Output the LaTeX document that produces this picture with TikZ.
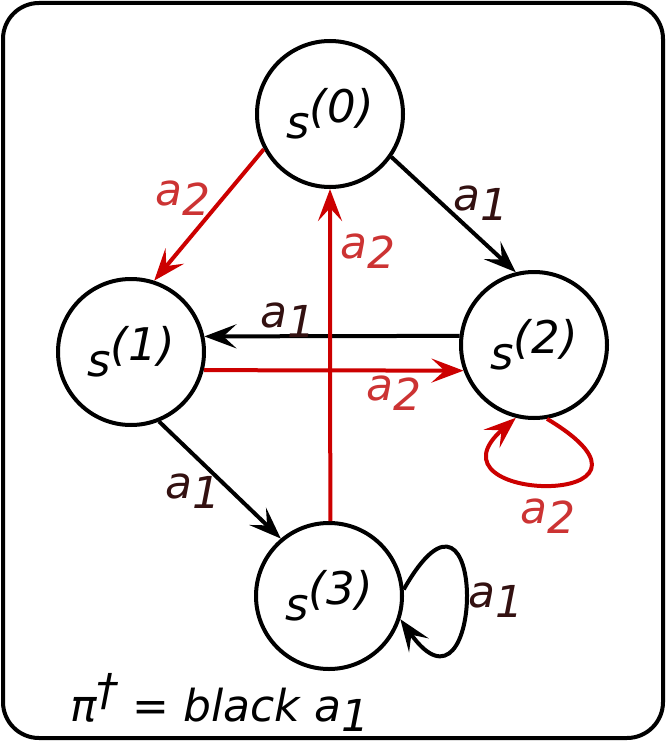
\documentclass[tikz,border=0pt]{standalone}
\usepackage{fontspec}
\setmainfont{DejaVu Sans}
\usetikzlibrary{arrows.meta}
\definecolor{edgered}{RGB}{204,0,0}
\definecolor{labred}{RGB}{204,51,51}
\definecolor{labdark}{RGB}{51,17,17}
\newcommand{\subdig}[1]{\raisebox{-10pt}{#1}}
\newcommand{\supdig}[1]{\raisebox{16pt}{#1}}
\begin{document}
\begin{tikzpicture}[x=1pt,y=-1pt,
  state/.style={circle,draw,line width=4pt,minimum size=146pt,inner sep=0pt,
    font=\fontsize{45}{45}\selectfont\itshape},
  edge/.style={line width=4pt,-{Stealth[length=32pt,width=24pt,inset=13pt]}},
  redge/.style={edge,color=edgered},
  lab/.style={anchor=base west,inner sep=0pt,font=\fontsize{44}{44}\selectfont\itshape},
  labr/.style={lab,text=labred},
  labd/.style={lab,text=labdark}]
\useasboundingbox (0,0) rectangle (666,741);
\draw[line width=4pt,rounded corners=36pt] (3,3) rectangle (663,738);

\node[state] (s0) at (330,114) {s\supdig{(0)}};
\node[state] (s1) at (131,352) {s\supdig{(1)}};
\node[state] (s2) at (534,345) {s\supdig{(2)}};
\node[state] (s3) at (329,596) {s\supdig{(3)}};

% black a1 edges
\draw[edge] (s0.-35) -- (s2.104);
\draw[edge] (s2.173) -- (s1.12);
\draw[edge] (s1.-68) -- (s3.130);
\draw[edge] (s3.5) .. controls +(85,-150) and +(85,120) .. (s3.-18);

% red a2 edges
\draw[redge] (s0.208) -- (s1.72);
\draw[redge] (s1.-14) -- (s2.200);
\draw[redge] (s2.-80) .. controls +(150,90) and +(-100,87) .. (s2.-104);
\draw[redge] (s3.89) -- (s0.-90);

% labels
\node[labr] (l1) at (155,205) {a\subdig{2}};
\node[labd] (l2) at (453,210) {a\subdig{1}};
\node[labr] (l3) at (340,258) {a\subdig{2}};
\node[labd] (l4) at (260,327) {a\subdig{1}};
\node[labr] (l5) at (366,400) {a\subdig{2}};
\node[labd] (l6) at (165,498) {a\subdig{1}};
\node[labr] (l7) at (520,523) {a\subdig{2}};
\node[labd] (l8) at (468,607) {a\subdig{1}};

\node[lab] (pi) at (70,721) {π\supdig{†} = black a\subdig{1}};
\end{tikzpicture}
\end{document}
